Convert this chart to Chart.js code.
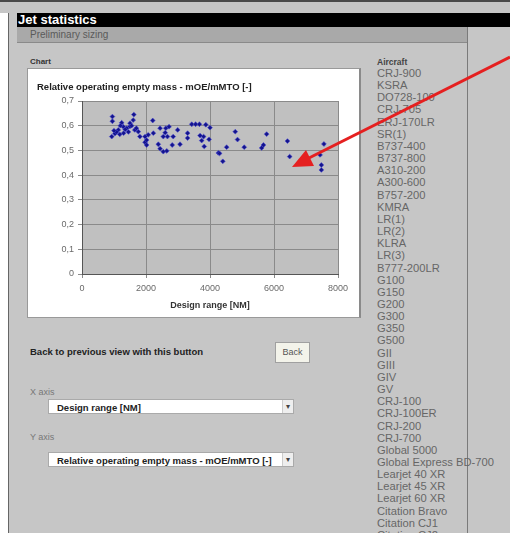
<!DOCTYPE html>
<html lang="en">
    <head>
        <meta charset="utf-8">
        <title>Jet statistics</title>
        <script src="https://cdn.jsdelivr.net/npm/chart.js"></script>
        <style>
            body { margin:0; width:510px; height:533px; overflow:hidden; position:relative;
                   background:#c6c6c6; font-family:'Liberation Sans', Arial, sans-serif; }
            .abs { position:absolute; }
            #topline { left:0; top:0; width:510px; height:2px; background:#4a4a4a; }
            #leftpane { left:0; top:13px; width:8px; height:520px; background:#fff; border-right:1px solid #666; }
            #head { left:17px; top:13px; width:493px; height:14px; background:#000; color:#fff;
                    font-weight:bold; font-size:13px; line-height:14px; padding-left:1px; }
            #sub { left:17px; top:27px; width:450px; height:16px; background:#a9a9a9; border-bottom:1px solid #8a8a8a;
                   color:#5a5a5a; font-size:10px; line-height:16px; padding-left:13px; box-sizing:border-box; }
            #vline { left:467px; top:27px; width:1px; height:506px; background:#7a7a7a; }
            #chartlbl { left:30px; top:57px; font-size:8px; font-weight:bold; color:#333; }
            #chartbox { left:27px; top:68px; width:331px; height:248px; background:#fff;
                        border:1px solid #999; border-right:2px solid #8a8a8a; }
            #acTitle { left:377px; top:57px; font-size:8.5px; font-weight:bold; color:#444; }
            #acList { left:377px; top:67px; font-size:11.2px; line-height:12.16px; color:#666; white-space:nowrap; }
            .lbl { font-size:9.5px; color:#222; font-weight:bold; }
            .small { font-size:9px; color:#777; }
            #back { left:275px; top:342px; width:33px; height:19px; background:#f3f3ea; border:1px solid #a0a0a0;
                    font-size:9px; color:#555; text-align:center; line-height:19px; }
            .sel { width:246px; height:15px; background:#fff; border:1px solid #aaa; font-size:9.5px; font-weight:bold;
                   color:#222; line-height:15px; padding-left:8px; box-sizing:border-box; overflow:hidden; white-space:nowrap; }
            .arr { position:absolute; right:0; top:0; width:10px; height:13px; background:#eee; border-left:1px solid #ccc;
                   font-size:8px; line-height:13px; text-align:center; color:#444; font-weight:normal; }
        </style>
    </head>
 <body>
    <div class="abs" id="topline"></div>
    <div class="abs" id="leftpane"></div>
    <div class="abs" id="head">Jet statistics</div>
    <div class="abs" id="sub">Preliminary sizing</div>
    <div class="abs" id="vline"></div>

    <div class="abs" id="chartlbl">Chart</div>
    <div class="abs" id="chartbox"><canvas id="myChart" width="331" height="248"></canvas></div>

    <div class="abs" id="acTitle">Aircraft</div>
    <div class="abs" id="acList"></div>

    <div class="abs lbl" style="left:30px;top:346px;">Back to previous view with this button</div>
    <div class="abs" id="back">Back</div>

    <div class="abs small" style="left:30px;top:387px;">X axis</div>
    <div class="abs sel" style="left:48px;top:399px;">Design range [NM]<span class="arr">&#9662;</span></div>

    <div class="abs small" style="left:30px;top:432px;">Y axis</div>
    <div class="abs sel" style="left:48px;top:452px;">Relative operating empty mass - mOE/mMTO [-]<span class="arr">&#9662;</span></div>

    <!-- red pointer drawn over the screenshot -->
    <svg class="abs" style="left:0;top:0;" width="510" height="533">
        <line x1="510" y1="57" x2="305" y2="160" stroke="#e52020" stroke-width="3"/>
        <polygon points="292,167 306,150 314,166" fill="#e52020"/>
    </svg>

    <script>
    // aircraft names in the side list
    const aircraft = ['CRJ-900','KSRA','DO728-100','CRJ-705','ERJ-170LR','SR(1)','B737-400','B737-800',
        'A310-200','A300-600','B757-200','KMRA','LR(1)','LR(2)','KLRA','LR(3)','B777-200LR','G100','G150',
        'G200','G300','G350','G500','GII','GIII','GIV','GV','CRJ-100','CRJ-100ER','CRJ-200','CRJ-700',
        'Global 5000','Global Express BD-700','Learjet 40 XR','Learjet 45 XR','Learjet 60 XR',
        'Citation Bravo','Citation CJ1','Citation CJ2'];

    const chartTitle = 'Relative operating empty mass - mOE/mMTO [-]';
    const xTitle = 'Design range [NM]';

    // design range [NM]
    const rangeNM = [950,950,1240,1500,1620,1600,2210,
        930,1030,1135,1290,1400,1500,1650,1760,1810,1970,2070,2230,1970,2020,2385,2440,2540,2620,2670,2440,2600,2540,2020,2720,
        1080,1200,1350,1450,1550,1700,1300,1000,1180,
        2990,2850,2820,3063,3300,3300,3430,3550,3670,3870,4000,3690,3740,3800,3970,3820,2650,4260,
        4790,4860,4520,5070,4300,4400,5770,5670,5615,6420,6490,7560,7440,7480,7480];
    // relative operating empty mass mOE/mMTO
    const massRatio = [0.637,0.618,0.612,0.610,0.645,0.623,0.621,
        0.556,0.568,0.583,0.596,0.590,0.597,0.583,0.576,0.556,0.556,0.563,0.570,0.533,0.522,0.525,0.507,0.495,0.590,0.556,0.590,0.572,0.556,0.542,0.596,
        0.575,0.600,0.585,0.575,0.600,0.590,0.570,0.580,0.565,
        0.583,0.556,0.522,0.525,0.570,0.550,0.606,0.606,0.606,0.604,0.592,0.560,0.540,0.556,0.545,0.516,0.498,0.490,
        0.576,0.544,0.513,0.513,0.488,0.456,0.566,0.522,0.510,0.538,0.475,0.526,0.482,0.441,0.421];

    const xTicks = [0, 2000, 4000, 6000, 8000];
    const yTicks = [0, 0.1, 0.2, 0.3, 0.4, 0.5, 0.6, 0.7];

    document.getElementById('acList').innerHTML = aircraft.join('<br>');

    const points = [];
    for (var i in rangeNM) {
        points.push({x: rangeNM[i], y: massRatio[i]});
    }

    // gray plot area like Excel
    const plotBg = {
        id: 'plotBg',
        beforeDraw(chart) {
            const a = chart.chartArea;
            const ctx = chart.ctx;
            ctx.save();
            ctx.fillStyle = '#c0c0c0';
            ctx.fillRect(a.left, a.top, a.width, a.height);
            ctx.restore();
        }
    };

    const tickFont = {family: 'Liberation Sans', size: 9};

    const ctx = document.getElementById('myChart').getContext('2d');
    const myChart = new Chart(ctx, {
        type: 'scatter',
        data: {
            datasets: [{
                data: points,
                backgroundColor: '#14148c',
                borderColor: 'rgba(70,70,210,0.6)',
                borderWidth: 1,
                pointStyle: 'rectRot',
                pointRadius: 2.4
            }]
        },
        options: {
            responsive: false,
            animation: false,
            layout: { padding: { left: 9, right: 21, top: 12.6, bottom: 2 } },
            plugins: {
                legend: { display: false },
                tooltip: { enabled: false },
                title: {
                    display: true,
                    text: chartTitle,
                    align: 'start',
                    color: '#222',
                    font: { family: 'Liberation Sans', size: 9.5, weight: 'bold' },
                    padding: { top: 0, bottom: 8 }
                }
            },
            scales: {
                x: {
                    type: 'linear',
                    min: xTicks[0], max: xTicks[xTicks.length - 1],
                    afterBuildTicks: (s) => { s.ticks = xTicks.map(v => ({value: v})); },
                    afterFit: (s) => { s.height = 41; },
                    ticks: { color: '#6a6a6a', font: tickFont, padding: 5, maxRotation: 0,
                             callback: (v) => String(v) },
                    grid: { color: '#8a8a8a', tickLength: 4 },
                    border: { color: '#555' },
                    title: { display: true, text: xTitle, color: '#333',
                             font: { family: 'Liberation Sans', size: 9, weight: 'bold' }, padding: { top: 2, bottom: 4 } }
                },
                y: {
                    min: yTicks[0], max: yTicks[yTicks.length - 1],
                    afterBuildTicks: (s) => { s.ticks = yTicks.map(v => ({value: v})); },
                    afterFit: (s) => { s.width = 45; },
                    ticks: { color: '#6a6a6a', font: tickFont, padding: 4,
                             callback: (v) => v === 0 ? '0' : v.toFixed(1).replace('.', ',') },
                    grid: { color: '#8a8a8a', tickLength: 4 },
                    border: { color: '#555' }
                }
            }
        },
        plugins: [plotBg]
    });
    </script>
	</body>
</html>
